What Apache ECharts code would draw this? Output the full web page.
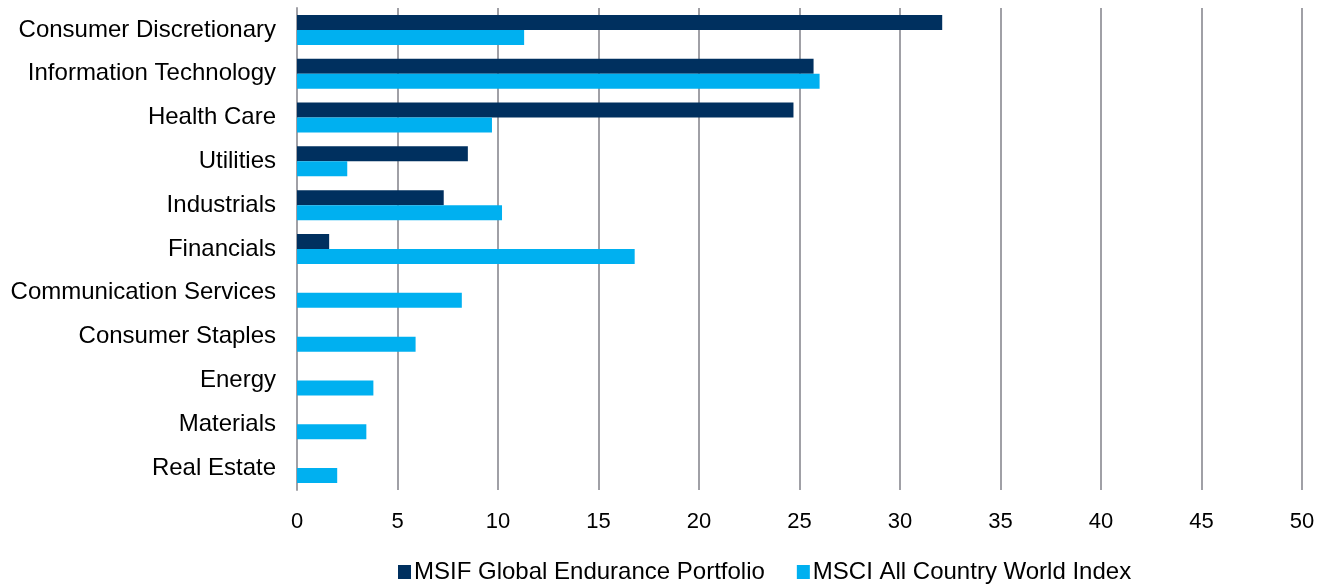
<!DOCTYPE html>
<html><head><meta charset="utf-8">
<script src="https://cdn.jsdelivr.net/npm/echarts@6/dist/echarts.min.js"></script>
<style>html,body{margin:0;padding:0;background:#fff}#c{width:1330px;height:585px}</style>
</head><body><div id="c"></div>
<script>
const categories = ["Consumer Discretionary","Information Technology","Health Care","Utilities","Industrials","Financials","Communication Services","Consumer Staples","Energy","Materials","Real Estate"];
const portfolio = [32.1, 25.7, 24.7, 8.5, 7.3, 1.6, null, null, null, null, null];
const benchmark = [11.3, 26.0, 9.7, 2.5, 10.2, 16.8, 8.2, 5.9, 3.8, 3.45, 2.0];
const xTicks = {min: 0, max: 50, interval: 5};
const seriesNames = ["MSIF Global Endurance Portfolio", "MSCI All Country World Index"];

const chart = echarts.init(document.getElementById('c'), null, {renderer: 'canvas'});
const font = 'Liberation Sans, Arial, sans-serif';
chart.setOption({
  animation: false,
  textStyle: {fontFamily: font},
  grid: {left: 297, right: 28, top: 8, bottom: 95, containLabel: false},
  xAxis: {
    type: 'value', min: xTicks.min, max: xTicks.max, interval: xTicks.interval,
    axisLine: {show: false}, axisTick: {show: false},
    splitLine: {show: true, lineStyle: {color: '#a0a0a6', width: 2}},
    axisLabel: {color: '#000', fontSize: 22, fontFamily: font, margin: 21}
  },
  yAxis: {
    type: 'category', data: categories, inverse: true,
    axisLine: {show: true, lineStyle: {color: '#a0a0a6', width: 2}},
    axisTick: {show: false},
    axisLabel: {color: '#000', fontSize: 24, fontFamily: font, margin: 21}
  },
  legend: {
    top: 555, left: 393, itemWidth: 13, itemHeight: 14, itemGap: 32,
    icon: 'rect',
    textStyle: {color: '#000', fontSize: 24, fontFamily: font, padding: [0, 0, 0, -2]},
    data: seriesNames
  },
  series: [
    {name: seriesNames[0], type: 'bar', data: portfolio, itemStyle: {color: '#00305f'}, barWidth: 15, barGap: '0%'},
    {name: seriesNames[1], type: 'bar', data: benchmark, itemStyle: {color: '#00b0f0'}, barWidth: 15, barGap: '0%'}
  ]
});
</script></body></html>
